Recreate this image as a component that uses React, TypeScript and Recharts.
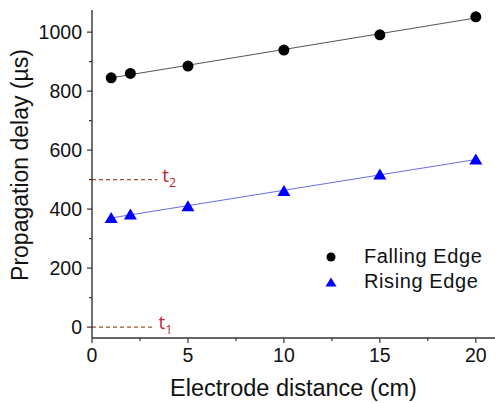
import { ScatterChart, Scatter, XAxis, YAxis, ReferenceLine, Legend } from "recharts";

// electrode distance (cm)
const distances = [1, 2, 5, 10, 15, 20];
// propagation delay (µs)
const fallingDelay = [845, 860, 885, 939, 991, 1052];
const risingDelay = [370, 382, 410, 461, 517, 568];

// linear fit end points
const fitX = [1, 20];
const fallingFit = [845, 1048];
const risingFit = [370, 568];

const xTicks = [0, 2.5, 5, 7.5, 10, 12.5, 15, 17.5, 20];
const yTicks = [0, 100, 200, 300, 400, 500, 600, 700, 800, 900, 1000];

// t1 / t2 marks
const t1Level = 0;
const t2Level = 500;

const FONT = "'Liberation Sans', Arial, sans-serif";

const falling = distances.map((x, i) => ({ x, y: fallingDelay[i] }));
const rising = distances.map((x, i) => ({ x, y: risingDelay[i] }));

const XTick = ({ x, y, payload }: any) => {
  const major = payload.value % 5 === 0;
  return (
    <g>
      <line x1={x} y1={y} x2={x} y2={y + (major ? 5 : 3)} stroke="#333" strokeWidth={1.2} />
      {major && (
        <text x={x} y={y + 24} textAnchor="middle" fontSize={19.5} fill="#111" fontFamily={FONT}>
          {payload.value}
        </text>
      )}
    </g>
  );
};

const YTick = ({ x, y, payload }: any) => {
  const major = payload.value % 200 === 0;
  return (
    <g>
      <line x1={x - (major ? 5 : 3)} y1={y} x2={x} y2={y} stroke="#333" strokeWidth={1.2} />
      {major && (
        <text x={x - 10} y={y + 7} textAnchor="end" fontSize={19.5} fill="#111" fontFamily={FONT}>
          {payload.value}
        </text>
      )}
    </g>
  );
};

const Dot = ({ cx, cy }: any) => <circle cx={cx} cy={cy} r={5.5} fill="#000" />;

const Tri = ({ cx, cy }: any) => (
  <polygon
    points={`${cx},${cy - 6} ${cx - 6.5},${cy + 5} ${cx + 6.5},${cy + 5}`}
    fill="#0000ff"
  />
);

const tLabel = (sub: string) => (props: any) => {
  const vb = props.viewBox;
  return (
    <text x={vb.x + vb.width + 5} y={vb.y + 2} fill="#c0282d" fontSize={19} fontFamily="'Open Sans', sans-serif">
      t
      <tspan dy={5} fontSize={12.5}>
        {sub}
      </tspan>
    </text>
  );
};

const renderLegend = (props: any) => (
  <div style={{ fontFamily: FONT, fontSize: 20, color: "#111" }}>
    {(props.payload || []).map((e: any) => (
      <div key={e.value} style={{ display: "flex", alignItems: "center", height: 25 }}>
        <svg width={16} height={16}>
          {e.value === "Falling Edge" ? (
            <circle cx={8} cy={8} r={4.5} fill="#000" />
          ) : (
            <polygon points="8,3.5 2.5,12.5 13.5,12.5" fill="#0000ff" />
          )}
        </svg>
        <span style={{ marginLeft: 25, letterSpacing: 0.6 }}>{e.value}</span>
      </div>
    ))}
  </div>
);

export default function App() {
  return (
    <div style={{ position: "absolute", left: 0, top: 0, background: "#fff" }}>
      <ScatterChart width={495} height={403} margin={{ top: 10, right: 0, bottom: 0, left: 0 }}>
        <XAxis
          type="number"
          dataKey="x"
          domain={[0, 21]}
          ticks={xTicks}
          interval={0}
          height={65}
          allowDataOverflow
          axisLine={{ stroke: "#333", strokeWidth: 1.4 }}
          tickLine={false}
          tickSize={0}
          tickMargin={0}
          tick={<XTick />}
          label={{
            content: (p: any) => (
              <text
                x={p.viewBox.x + p.viewBox.width / 2}
                y={p.viewBox.y + 58}
                textAnchor="middle"
                fontSize={23.5}
                fill="#111"
                fontFamily={FONT}
              >
                Electrode distance (cm)
              </text>
            ),
          }}
        />
        <YAxis
          type="number"
          dataKey="y"
          domain={[-37, 1075]}
          ticks={yTicks}
          interval={0}
          width={92}
          allowDataOverflow
          axisLine={{ stroke: "#333", strokeWidth: 1.4 }}
          tickLine={false}
          tickSize={0}
          tickMargin={0}
          tick={<YTick />}
          label={{
            content: () => (
              <text
                x={20}
                y={165}
                transform="rotate(-90 20 165)"
                textAnchor="middle"
                dominantBaseline="central"
                fontSize={23}
                fill="#111"
                fontFamily={FONT}
              >
                Propagation delay (µs)
              </text>
            ),
          }}
        />
        <ReferenceLine
          segment={[{ x: fitX[0], y: fallingFit[0] }, { x: fitX[1], y: fallingFit[1] }]}
          stroke="#555"
          strokeWidth={1}
        />
        <ReferenceLine
          segment={[{ x: fitX[0], y: risingFit[0] }, { x: fitX[1], y: risingFit[1] }]}
          stroke="#6b6be0"
          strokeWidth={1}
        />
        <ReferenceLine
          segment={[{ x: 0, y: t2Level }, { x: 3.4, y: t2Level }]}
          stroke="#a0522d"
          strokeDasharray="4 3"
          strokeWidth={1.1}
          label={{ content: tLabel("2") }}
        />
        <ReferenceLine
          segment={[{ x: 0, y: t1Level }, { x: 3.2, y: t1Level }]}
          stroke="#a0522d"
          strokeDasharray="4 3"
          strokeWidth={1.1}
          label={{ content: tLabel("1") }}
        />
        <Scatter name="Falling Edge" data={falling} fill="#000" shape={<Dot />} isAnimationActive={false} />
        <Scatter name="Rising Edge" data={rising} fill="#0000ff" shape={<Tri />} isAnimationActive={false} />
        <Legend
          layout="vertical"
          align="center"
          verticalAlign="middle"
          content={renderLegend}
          wrapperStyle={{ position: "absolute", left: 323, top: 244, width: 170 }}
        />
      </ScatterChart>
    </div>
  );
}
